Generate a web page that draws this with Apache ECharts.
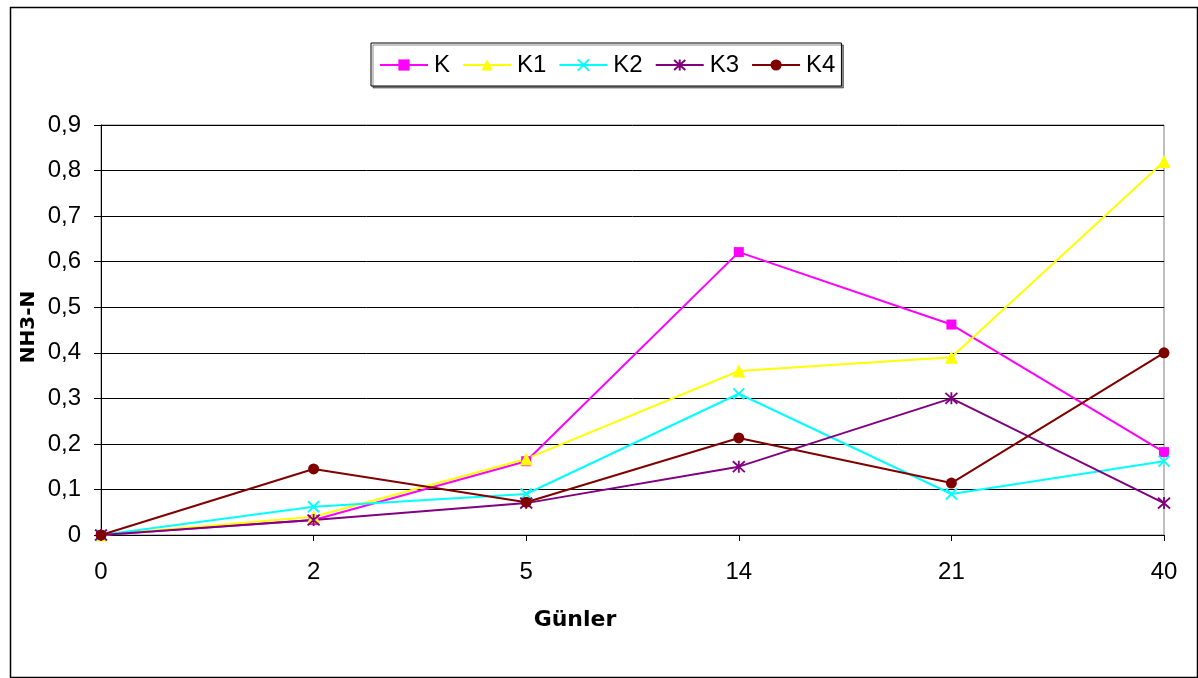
<!DOCTYPE html>
<html>
<head>
<meta charset="utf-8">
<script src="https://cdn.jsdelivr.net/npm/echarts@6/dist/echarts.min.js"></script>
<style>
  html, body { margin: 0; padding: 0; background: #fff; }
  #chart { width: 1198px; height: 678px; }
</style>
</head>
<body>
<div id="chart"></div>
<script>
// Sampling days
const days = ['0', '2', '5', '14', '21', '40'];

// NH3-N measurements per treatment
const seriesNames = ['K', 'K1', 'K2', 'K3', 'K4'];
const valuesK  = [0, 0.033, 0.162, 0.621, 0.462, 0.182];
const valuesK1 = [0, 0.040, 0.167, 0.360, 0.390, 0.820];
const valuesK2 = [0, 0.062, 0.090, 0.310, 0.090, 0.162];
const valuesK3 = [0, 0.033, 0.070, 0.150, 0.300, 0.070];
const valuesK4 = [0, 0.145, 0.072, 0.213, 0.114, 0.400];

const yTicks = { min: 0, max: 0.9, step: 0.1 };

const FONT = 'Liberation Sans, Arial, sans-serif';
const TITLE_FONT = 'DejaVu Sans, Liberation Sans, sans-serif';

const crossPath = 'path://M0,0L10,10M10,0L0,10';
const starPath = 'path://M5,0L5,10M0.5,0.5L9.5,9.5M9.5,0.5L0.5,9.5';

function lineSeries(name, data, color, symbol, size, strokeSymbol) {
  const itemStyle = { color: color };
  if (strokeSymbol) {
    itemStyle.borderColor = color;
    itemStyle.borderWidth = 1.8;
  }
  return {
    name: name,
    type: 'line',
    data: data,
    symbol: symbol,
    symbolSize: size,
    showSymbol: true,
    lineStyle: { color: color, width: 2 },
    itemStyle: itemStyle,
    emphasis: { disabled: true },
    animation: false
  };
}

const chart = echarts.init(document.getElementById('chart'), null, { renderer: 'canvas' });

chart.setOption({
  backgroundColor: '#ffffff',
  animation: false,
  textStyle: { fontFamily: FONT },
  grid: {
    left: 101, right: 34, top: 125, bottom: 143,
    show: true, borderColor: '#808080', borderWidth: 1, backgroundColor: 'transparent'
  },
  legend: {
    data: seriesNames,
    left: 371, top: 43,
    padding: [10, 6, 9, 8],
    itemWidth: 48, itemHeight: 14, itemGap: 12,
    backgroundColor: '#ffffff',
    borderColor: '#000000', borderWidth: 1,
    shadowColor: 'rgba(0,0,0,0.45)', shadowOffsetX: 2, shadowOffsetY: 2, shadowBlur: 0,
    textStyle: { fontSize: 24, color: '#000', fontFamily: FONT, padding: [0, 0, 0, 1] }
  },
  xAxis: {
    type: 'category',
    data: days,
    boundaryGap: false,
    axisLine: { lineStyle: { color: '#000', width: 1 } },
    axisTick: { show: true, inside: false, length: 6, lineStyle: { color: '#000' } },
    axisLabel: { fontSize: 24, color: '#000', margin: 25, fontFamily: FONT },
    splitLine: { show: false }
  },
  yAxis: {
    type: 'value',
    min: yTicks.min, max: yTicks.max, interval: yTicks.step,
    axisLine: { show: true, lineStyle: { color: '#000', width: 1 } },
    axisTick: { show: true, inside: false, length: 7, lineStyle: { color: '#000' } },
    axisLabel: {
      fontSize: 24, color: '#000', margin: 20, fontFamily: FONT,
      formatter: v => (Math.round(v * 10) / 10).toString().replace('.', ',')
    },
    splitLine: { show: true, lineStyle: { color: '#000', width: 1 } }
  },
  graphic: [
    {
      type: 'rect', left: 8, top: 5, silent: true, z: -1,
      shape: { width: 1187, height: 670 },
      style: { fill: 'none', stroke: '#000', lineWidth: 1.5 }
    },
    {
      type: 'text', silent: true,
      x: 575, y: 620,
      style: {
        text: 'Günler', font: 'bold 22px ' + TITLE_FONT, fill: '#000',
        align: 'center', verticalAlign: 'middle'
      }
    },
    {
      type: 'text', silent: true,
      x: 29, y: 327, rotation: Math.PI / 2,
      style: {
        text: 'NH3-N', font: 'bold 20px ' + TITLE_FONT, fill: '#000',
        align: 'center', verticalAlign: 'middle'
      }
    }
  ],
  series: [
    lineSeries('K',  valuesK,  '#FF00FF', 'rect', 10, false),
    lineSeries('K1', valuesK1, '#FFFF00', 'triangle', 13, false),
    lineSeries('K2', valuesK2, '#00FFFF', crossPath, 11, true),
    lineSeries('K3', valuesK3, '#800080', starPath, 12, true),
    lineSeries('K4', valuesK4, '#800000', 'circle', 11, false)
  ]
});
</script>
</body>
</html>
